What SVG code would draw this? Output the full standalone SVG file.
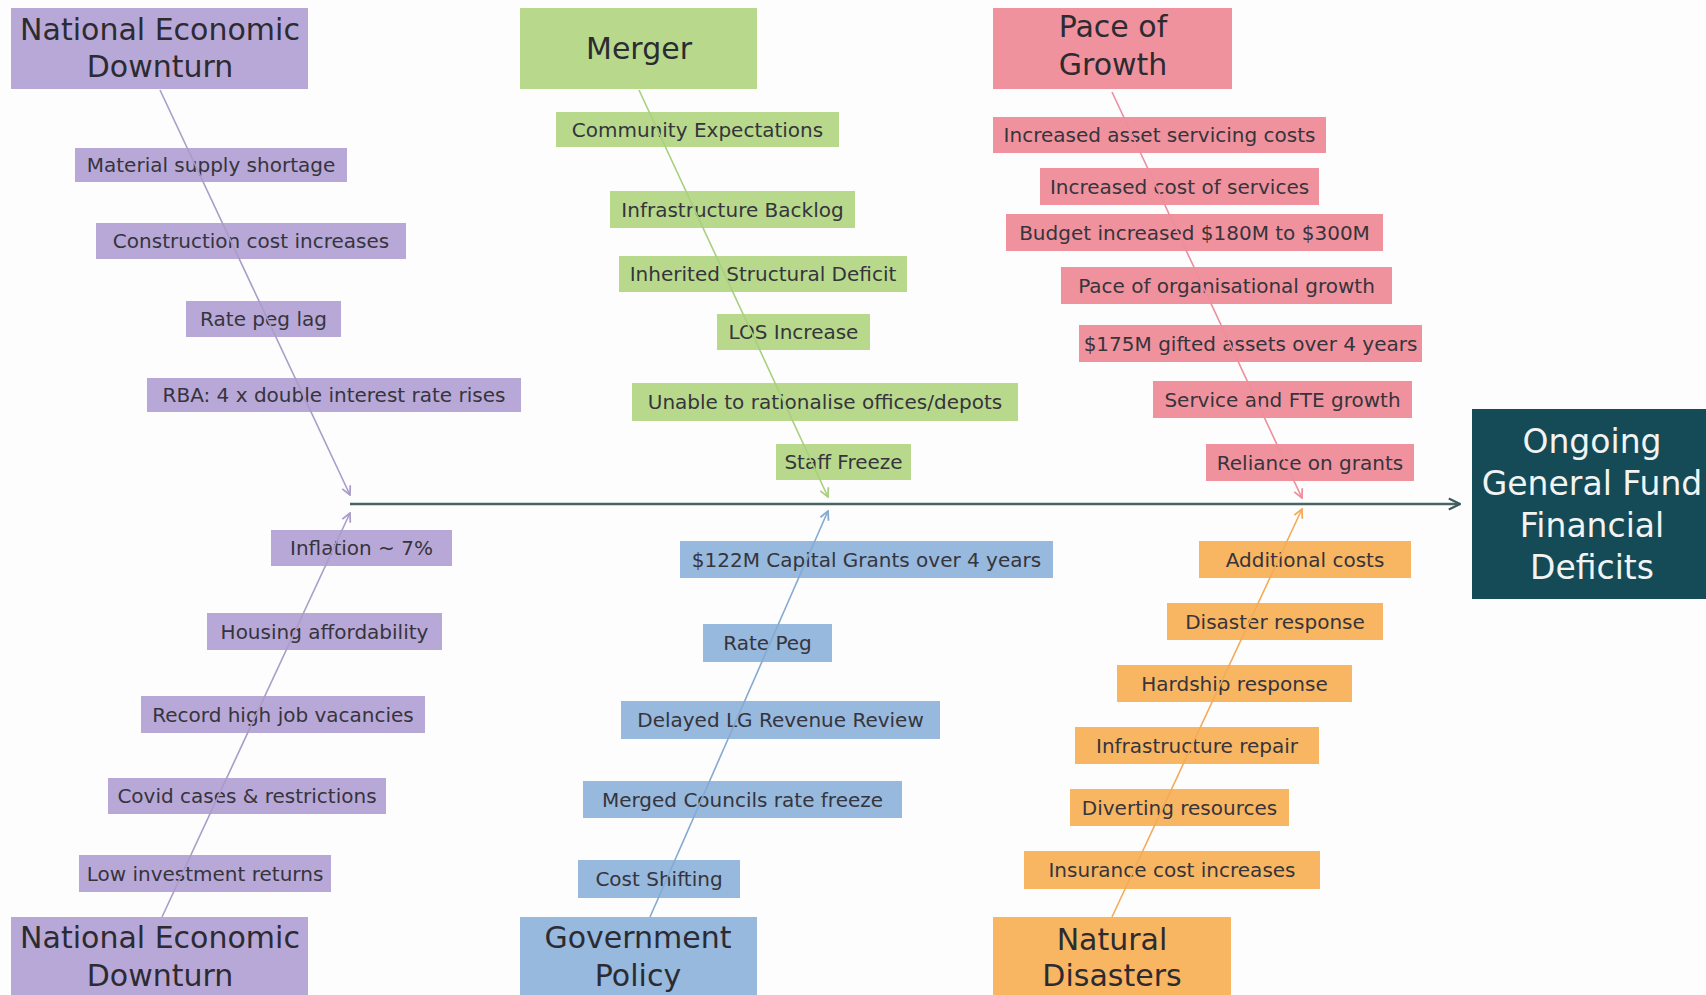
<svg xmlns="http://www.w3.org/2000/svg" width="1706" height="995" viewBox="0 0 1706 995">
<defs>
<style>
.bg{fill:#fdfdfd}
.pu{fill:#b8a8d7}
.gr{fill:#b8d98c}
.pk{fill:#f0929d}
.bl{fill:#96b9dd}
.or{fill:#f8b662}
.main{fill:#154b56}
.t{font-family:"DejaVu Sans","Liberation Sans",sans-serif;font-size:20px;fill:#36343c;text-anchor:middle}
.h{font-family:"DejaVu Sans","Liberation Sans",sans-serif;font-size:30px;fill:#2c2b32;text-anchor:middle}
.hw{font-family:"DejaVu Sans","Liberation Sans",sans-serif;font-size:33px;fill:#f2f4f4;text-anchor:middle}
.c{fill:none;stroke-width:1.6}
</style>
<marker id="apu" viewBox="0 0 10 10" refX="9" refY="5" markerWidth="11" markerHeight="11" markerUnits="userSpaceOnUse" orient="auto"><path d="M1,1 L9,5 L1,9" fill="none" stroke="#a99cc8" stroke-width="1.6"/></marker>
<marker id="agr" viewBox="0 0 10 10" refX="9" refY="5" markerWidth="11" markerHeight="11" markerUnits="userSpaceOnUse" orient="auto"><path d="M1,1 L9,5 L1,9" fill="none" stroke="#a9cf7e" stroke-width="1.6"/></marker>
<marker id="apk" viewBox="0 0 10 10" refX="9" refY="5" markerWidth="11" markerHeight="11" markerUnits="userSpaceOnUse" orient="auto"><path d="M1,1 L9,5 L1,9" fill="none" stroke="#ec8e9c" stroke-width="1.6"/></marker>
<marker id="abl" viewBox="0 0 10 10" refX="9" refY="5" markerWidth="11" markerHeight="11" markerUnits="userSpaceOnUse" orient="auto"><path d="M1,1 L9,5 L1,9" fill="none" stroke="#86a9d2" stroke-width="1.6"/></marker>
<marker id="aor" viewBox="0 0 10 10" refX="9" refY="5" markerWidth="11" markerHeight="11" markerUnits="userSpaceOnUse" orient="auto"><path d="M1,1 L9,5 L1,9" fill="none" stroke="#f3ab58" stroke-width="1.6"/></marker>
<marker id="amain" viewBox="0 0 10 10" refX="9" refY="5" markerWidth="14" markerHeight="14" markerUnits="userSpaceOnUse" orient="auto"><path d="M1,1 L9,5 L1,9" fill="none" stroke="#3e5a5e" stroke-width="1.6"/></marker>
</defs>
<rect class="bg" x="0" y="0" width="1706" height="995"/>

<!-- Category heads -->
<g id="ned-top"><rect class="pu" x="11" y="8" width="297" height="81"/><text class="h" x="160" y="40">National Economic</text><text class="h" x="160" y="77">Downturn</text></g>
<g id="merger"><rect class="gr" x="520" y="8" width="237" height="81"/><text class="h" x="639" y="59">Merger</text></g>
<g id="pace"><rect class="pk" x="993" y="8" width="239" height="81"/><text class="h" x="1113" y="37">Pace of</text><text class="h" x="1113" y="75">Growth</text></g>
<g id="ned-bottom"><rect class="pu" x="11" y="917" width="297" height="90"/><text class="h" x="160" y="948">National Economic</text><text class="h" x="160" y="986">Downturn</text></g>
<g id="gov"><rect class="bl" x="520" y="917" width="237" height="90"/><text class="h" x="638" y="948">Government</text><text class="h" x="638" y="986">Policy</text></g>
<g id="natural"><rect class="or" x="993" y="917" width="238" height="90"/><text class="h" x="1112" y="950">Natural</text><text class="h" x="1112" y="986">Disasters</text></g>
<g id="outcome"><rect class="main" x="1472" y="409" width="250" height="190"/><text class="hw" x="1592" y="453">Ongoing</text><text class="hw" x="1592" y="495">General Fund</text><text class="hw" x="1592" y="537">Financial</text><text class="hw" x="1592" y="579">Deficits</text></g>

<!-- Purple causes -->
<g id="p1"><rect class="pu" x="75" y="148" width="272" height="34"/><text class="t" x="211" y="172">Material supply shortage</text></g>
<g id="p2"><rect class="pu" x="96" y="223" width="310" height="36"/><text class="t" x="251" y="248">Construction cost increases</text></g>
<g id="p3"><rect class="pu" x="186" y="301" width="155" height="36"/><text class="t" x="263.5" y="326">Rate peg lag</text></g>
<g id="p4"><rect class="pu" x="147" y="378" width="374" height="34"/><text class="t" x="334" y="402">RBA: 4 x double interest rate rises</text></g>
<g id="p5"><rect class="pu" x="271" y="530" width="181" height="36"/><text class="t" x="361.5" y="555">Inflation ~ 7%</text></g>
<g id="p6"><rect class="pu" x="207" y="613" width="235" height="37"/><text class="t" x="324.5" y="638.5">Housing affordability</text></g>
<g id="p7"><rect class="pu" x="141" y="696" width="284" height="37"/><text class="t" x="283" y="721.5">Record high job vacancies</text></g>
<g id="p8"><rect class="pu" x="108" y="778" width="278" height="36"/><text class="t" x="247" y="803">Covid cases &amp; restrictions</text></g>
<g id="p9"><rect class="pu" x="79" y="855" width="252" height="37"/><text class="t" x="205" y="880.5">Low investment returns</text></g>

<!-- Green causes -->
<g id="g1"><rect class="gr" x="556" y="112" width="283" height="35"/><text class="t" x="697.5" y="136.5">Community Expectations</text></g>
<g id="g2"><rect class="gr" x="610" y="191" width="245" height="37"/><text class="t" x="732.5" y="216.5">Infrastructure Backlog</text></g>
<g id="g3"><rect class="gr" x="619" y="256" width="288" height="36"/><text class="t" x="763" y="281">Inherited Structural Deficit</text></g>
<g id="g4"><rect class="gr" x="717" y="314" width="153" height="36"/><text class="t" x="793.5" y="339">LOS Increase</text></g>
<g id="g5"><rect class="gr" x="632" y="383" width="386" height="38"/><text class="t" x="825" y="409">Unable to rationalise offices/depots</text></g>
<g id="g6"><rect class="gr" x="776" y="444" width="135" height="36"/><text class="t" x="843.5" y="469">Staff Freeze</text></g>

<!-- Pink causes -->
<g id="k1"><rect class="pk" x="993" y="117" width="333" height="36"/><text class="t" x="1159.5" y="142">Increased asset servicing costs</text></g>
<g id="k2"><rect class="pk" x="1040" y="168" width="279" height="37"/><text class="t" x="1179.5" y="193.5">Increased cost of services</text></g>
<g id="k3"><rect class="pk" x="1006" y="214" width="377" height="37"/><text class="t" x="1194.5" y="239.5">Budget increased $180M to $300M</text></g>
<g id="k4"><rect class="pk" x="1061" y="267" width="331" height="37"/><text class="t" x="1226.5" y="292.5">Pace of organisational growth</text></g>
<g id="k5"><rect class="pk" x="1079" y="325" width="343" height="37"/><text class="t" x="1250.5" y="350.5">$175M gifted assets over 4 years</text></g>
<g id="k6"><rect class="pk" x="1153" y="381" width="259" height="37"/><text class="t" x="1282.5" y="406.5">Service and FTE growth</text></g>
<g id="k7"><rect class="pk" x="1206" y="444" width="208" height="37"/><text class="t" x="1310" y="469.5">Reliance on grants</text></g>

<!-- Blue causes -->
<g id="b1"><rect class="bl" x="680" y="541" width="373" height="37"/><text class="t" x="866.5" y="566.5">$122M Capital Grants over 4 years</text></g>
<g id="b2"><rect class="bl" x="703" y="624" width="129" height="38"/><text class="t" x="767.5" y="650">Rate Peg</text></g>
<g id="b3"><rect class="bl" x="621" y="701" width="319" height="38"/><text class="t" x="780.5" y="727">Delayed LG Revenue Review</text></g>
<g id="b4"><rect class="bl" x="583" y="781" width="319" height="37"/><text class="t" x="742.5" y="806.5">Merged Councils rate freeze</text></g>
<g id="b5"><rect class="bl" x="578" y="860" width="162" height="38"/><text class="t" x="659" y="886">Cost Shifting</text></g>

<!-- Orange causes -->
<g id="o1"><rect class="or" x="1199" y="541" width="212" height="37"/><text class="t" x="1305" y="566.5">Additional costs</text></g>
<g id="o2"><rect class="or" x="1167" y="603" width="216" height="37"/><text class="t" x="1275" y="628.5">Disaster response</text></g>
<g id="o3"><rect class="or" x="1117" y="665" width="235" height="37"/><text class="t" x="1234.5" y="690.5">Hardship response</text></g>
<g id="o4"><rect class="or" x="1075" y="727" width="244" height="37"/><text class="t" x="1197" y="752.5">Infrastructure repair</text></g>
<g id="o5"><rect class="or" x="1070" y="789" width="219" height="37"/><text class="t" x="1179.5" y="814.5">Diverting resources</text></g>
<g id="o6"><rect class="or" x="1024" y="851" width="296" height="38"/><text class="t" x="1172" y="877">Insurance cost increases</text></g>

<!-- Connectors -->
<g id="connectors">
<line class="c" x1="160" y1="90" x2="350" y2="495" stroke="#a99cc8" marker-end="url(#apu)"/>
<line class="c" x1="162" y1="917" x2="350" y2="513" stroke="#a99cc8" marker-end="url(#apu)"/>
<line class="c" x1="639" y1="90" x2="828" y2="497" stroke="#a9cf7e" marker-end="url(#agr)"/>
<line class="c" x1="650" y1="917" x2="828" y2="511" stroke="#86a9d2" marker-end="url(#abl)"/>
<line class="c" x1="1112" y1="92" x2="1302" y2="498" stroke="#ec8e9c" marker-end="url(#apk)"/>
<line class="c" x1="1112" y1="917" x2="1302" y2="509" stroke="#f3ab58" marker-end="url(#aor)"/>
<line x1="350" y1="504" x2="1460" y2="504" stroke="#4a6466" stroke-width="2.4" marker-end="url(#amain)"/>
</g>
</svg>
